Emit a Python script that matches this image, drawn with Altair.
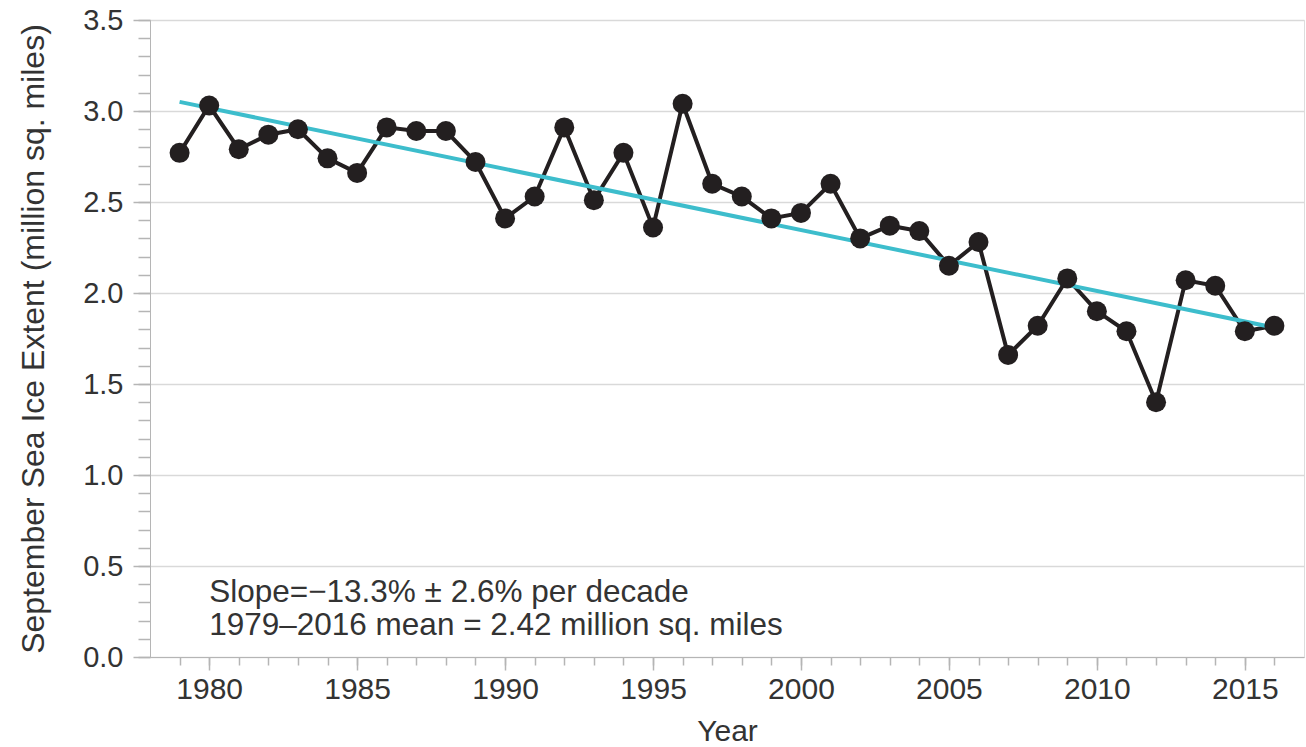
import altair as alt
import pandas as pd

years = list(range(1979, 2017))
extent = [2.77, 3.03, 2.79, 2.87, 2.90, 2.74, 2.66, 2.91, 2.89, 2.89,
          2.72, 2.41, 2.53, 2.91, 2.51, 2.77, 2.36, 3.04, 2.60, 2.53,
          2.41, 2.44, 2.60, 2.30, 2.37, 2.34, 2.15, 2.28, 1.66, 1.82,
          2.08, 1.90, 1.79, 1.40, 2.07, 2.04, 1.79, 1.82]
trend_years = [1979, 2016]
trend_values = [3.05, 1.81]
note_lines = ["Slope=\u221213.3% \u00b1 2.6% per decade",
              "1979\u20132016 mean = 2.42 million sq. miles"]
note_x = [1980, 1980]
note_y = [0.352, 0.168]

y_major = [0.0, 0.5, 1.0, 1.5, 2.0, 2.5, 3.0, 3.5]
y_minor = [round(i * 0.1, 1) for i in range(36)]
x_major = [1980, 1985, 1990, 1995, 2000, 2005, 2010, 2015]
x_minor = years

df = pd.DataFrame({"Year": years, "Extent": extent})
trend = pd.DataFrame({"Year": trend_years, "Extent": trend_values})
notes = pd.DataFrame({"Year": note_x, "Extent": note_y, "text": note_lines})

FONT = "Liberation Sans"
AXIS_GRAY = "#b5b5b5"
GRID_GRAY = "#d9d9d9"
TEXT = "#333333"

xs = alt.Scale(domain=[1978, 2017], nice=False, zero=False)
ys = alt.Scale(domain=[0, 3.5], nice=False)

x_main = alt.X("Year:Q", scale=xs, axis=alt.Axis(
    values=x_major, format="d", title="Year", grid=False, orient="bottom",
    tickSize=13, tickColor=AXIS_GRAY, domainColor=AXIS_GRAY, tickWidth=1.5,
    labelFontSize=30, labelFont=FONT, labelColor=TEXT, labelPadding=4,
    titleFontSize=30, titleFont=FONT, titleColor=TEXT, titleFontWeight="normal",
    titlePadding=12))
y_main = alt.Y("Extent:Q", scale=ys, axis=alt.Axis(
    values=y_major, format=".1f", grid=True, gridColor=GRID_GRAY, gridWidth=1.5,
    title="September Sea Ice Extent (million sq. miles)", orient="left",
    tickSize=17, tickColor=AXIS_GRAY, domainColor=AXIS_GRAY, tickWidth=1.5,
    labelFontSize=29, labelFont=FONT, labelColor=TEXT, labelPadding=10,
    titleFontSize=32, titleFont=FONT, titleColor=TEXT, titleFontWeight="normal",
    titlePadding=32))

x_min = alt.X("Year:Q", scale=xs, axis=alt.Axis(
    values=x_minor, labels=False, title=None, grid=False, orient="bottom",
    tickSize=8, tickColor=AXIS_GRAY, domain=False, tickWidth=1.5))
y_min = alt.Y("Extent:Q", scale=ys, axis=alt.Axis(
    values=y_minor, labels=False, title=None, grid=False, orient="left",
    tickSize=12, tickColor=AXIS_GRAY, domain=False, tickWidth=1.5))

minor_layer = alt.Chart(df).mark_point(opacity=0).encode(x=x_min, y=y_min)

line = alt.Chart(df).mark_line(color="#231f20", strokeWidth=4).encode(x=x_main, y=y_main)
pts = alt.Chart(df).mark_circle(color="#231f20", size=400, opacity=1).encode(x="Year:Q", y="Extent:Q")
tr = alt.Chart(trend).mark_line(color="#3dbdcc", strokeWidth=4).encode(x="Year:Q", y="Extent:Q")
txt = alt.Chart(notes).mark_text(align="left", baseline="middle", font=FONT,
                                 fontSize=31.5, color=TEXT).encode(
    x="Year:Q", y="Extent:Q", text="text:N")

main = alt.layer(line, tr, pts, txt)
chart = alt.layer(minor_layer, main).resolve_axis(x="independent", y="independent").properties(
    width=1154, height=637,
    autosize=alt.AutoSizeParams(type="none"),
    padding={"left": 150, "top": 20, "right": 2, "bottom": 90},
).configure_view(stroke=AXIS_GRAY, strokeWidth=1.5).configure(background="white")

chart.save("out.html", embed_options={"renderer": "svg", "actions": False})
